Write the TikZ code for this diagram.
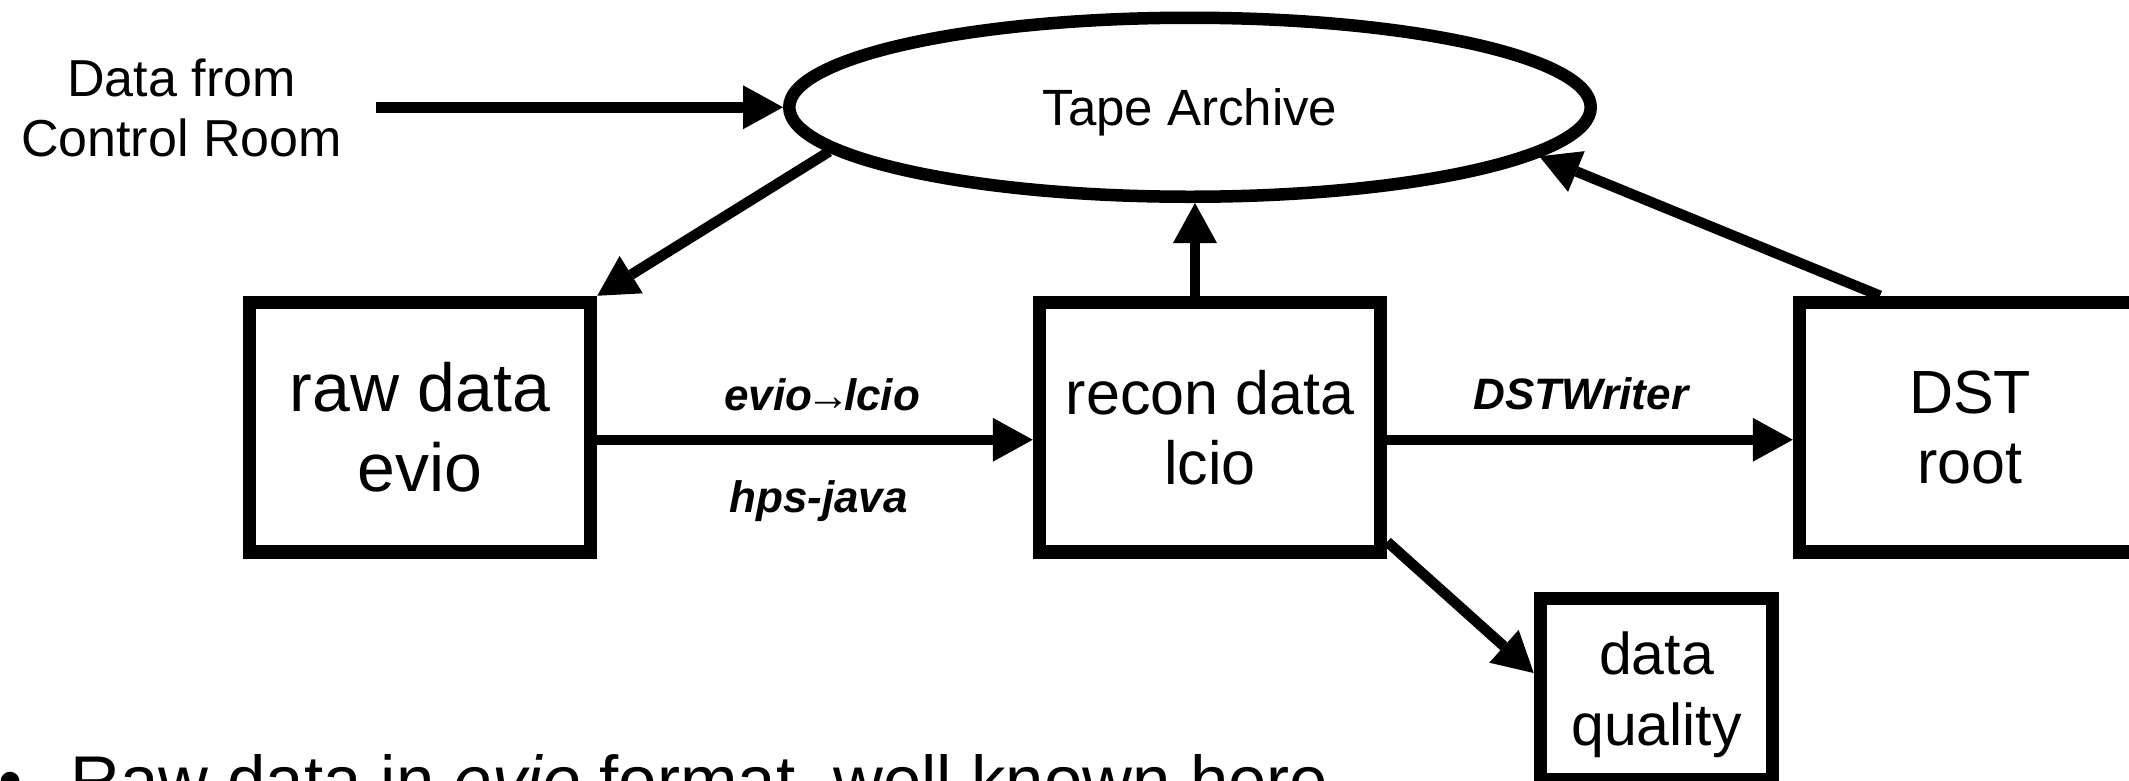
\documentclass[tikz,border=0pt]{standalone}
\usepackage{fontspec}
\setmainfont{Liberation Sans}
\usetikzlibrary{arrows.meta,shapes.geometric,calc}
\begin{document}
\begin{tikzpicture}[x=1pt,y=-1pt,
  box/.style={draw, line width=13.5pt, fill=white, inner sep=0pt,
    minimum width=341pt, minimum height=249.5pt, align=center},
  arr/.style={line width=10.5pt, -{Triangle[length=40pt,width=44pt,line width=0pt]}},
  lab/.style={font=\fontsize{44}{50}\selectfont\bfseries\itshape, anchor=base, inner sep=0pt}]
\useasboundingbox (0,0) rectangle (2129,780);
\clip (0,0) rectangle (2129,780);
% nodes
\node[draw, ellipse, line width=12.5pt, fill=white, minimum width=801.5pt,
  minimum height=179pt, inner sep=0pt, text depth=0pt,
  font=\fontsize{51}{60}\selectfont] (tape) at (1190,107.25) {Tape Archive};
\node[align=center, inner sep=0pt, font=\fontsize{52}{60}\selectfont]
  (src) at (181.5,108.4) {Data from\\Control Room};
\node[box, font=\fontsize{68}{80}\selectfont] (raw) at (420,427.25) {raw data\\evio};
\node[box, font=\fontsize{61}{70}\selectfont] (recon) at (1210,427.25) {recon data\\lcio};
\node[box, font=\fontsize{61}{70}\selectfont] (dst) at (1970,427.25) {DST\\root};
\node[box, minimum width=232pt, minimum height=181pt, text depth=0pt,
  font=\fontsize{59}{71}\selectfont] (dq) at (1656.5,689) {data\\quality};
\node[anchor=base west, inner sep=0pt, font=\fontsize{69}{80}\selectfont]
  (note) at (-2,804) {\textbullet\hspace{48pt}Raw data in \textit{evio} format, well known here};
% connectors
\draw[arr, line width=11pt] ($(src.east |- tape.west)+(34,0)$) -- (tape.west);
\draw[arr] (tape.187.5) -- (raw.north east);
\draw[arr] ($(recon.north)+(-15,0)$) -- ($(tape.south)+(5,0)$);
\draw[arr] ($(dst.north)+(-90,0)$) -- (tape.-8);
\draw[arr] ($(raw.east)+(0,12.5)$) -- ($(recon.west)+(0,12.5)$)
  node[lab, midway, xshift=7pt, yshift=29.5pt] {evio\kern-6pt→\kern-6pt lcio}
  node[lab, midway, xshift=3.5pt, yshift=-72.5pt] {hps-java};
\draw[arr] ($(recon.east)+(0,12.5)$) -- ($(dst.west)+(0,12.5)$)
  node[lab, midway, xshift=-9pt, yshift=30.5pt] {DSTWriter};
\draw[arr] ($(recon.south east)+(0,-17)$) -- ($(dq.west)+(0,-16)$);
\end{tikzpicture}
\end{document}
